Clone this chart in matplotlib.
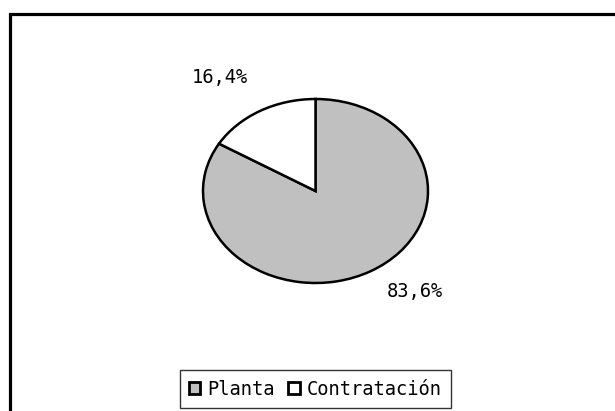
import matplotlib.pyplot as plt
from matplotlib.patches import Rectangle

categorias = ['Planta', 'Contratación']
porcentajes = [83.6, 16.4]
colores = ['#c0c0c0', '#ffffff']
etiquetas = ['83,6%', '16,4%']
# posiciones de las etiquetas (en unidades del radio)
pos_etiquetas = [(0.88, -1.09), (-0.85, 1.23)]

fuente = 'DejaVu Sans Mono'
tam = 13.5

fig = plt.figure(figsize=(6.15, 4.11), dpi=100)

# marco exterior del gráfico
fig.add_artist(Rectangle((9.5 / 615, -0.1), 1.2, 1 - 14 / 411 + 0.1,
                         transform=fig.transFigure, fill=False,
                         edgecolor='black', linewidth=2.3))

ax = fig.add_axes([203 / 615, (411 - 283) / 411, 225 / 615, 184 / 411])
wedges, textos = ax.pie(porcentajes, colors=colores, startangle=90,
                        counterclock=False, labels=etiquetas,
                        wedgeprops=dict(edgecolor='black', linewidth=1.8))
ax.set_aspect('auto')
ax.set_xlim(-1, 1)
ax.set_ylim(-1, 1)
for w in wedges:
    w.set_clip_on(False)
for t, (x, y) in zip(textos, pos_etiquetas):
    t.set_position((x, y))
    t.set_ha('center')
    t.set_va('center')
    t.set_fontfamily(fuente)
    t.set_fontsize(tam)
    t.set_clip_on(False)

leg = fig.legend(wedges, categorias, loc='center',
                 bbox_to_anchor=(315.5 / 615, 1 - 389 / 411),
                 ncol=2, frameon=True, fancybox=False,
                 prop={'family': fuente, 'size': tam},
                 handlelength=0.6, handleheight=0.6, handletextpad=0.4,
                 columnspacing=0.7, borderpad=0.5)
leg.get_frame().set_edgecolor('black')
leg.get_frame().set_linewidth(1.0)
for h in leg.legend_handles:
    h.set_linewidth(2.0)

fig.savefig('out.png', dpi=100)
